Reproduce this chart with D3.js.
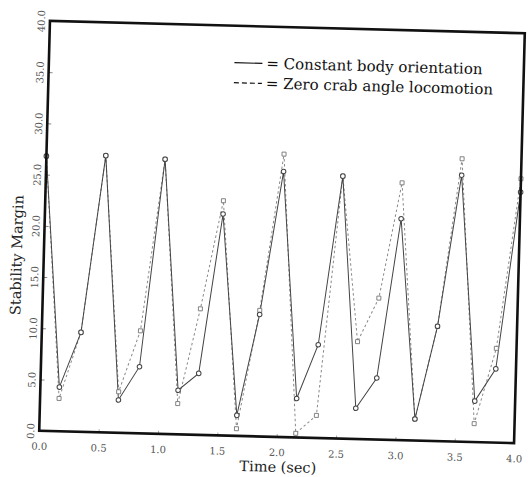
<!DOCTYPE html>
<meta charset="utf-8">
<head>
<style>
html, body {margin:0px; padding:0px; background:white;}
text {font-family: "DejaVu Serif", "Liberation Serif", serif;}
</style>
</head>
<script src="https://d3js.org/d3.v7.min.js"></script>
<div id="my_dataviz"></div>
<script>

// sample times (sec) shared by both gaits
var times = [0, 0.16, 0.33, 0.5, 0.66, 0.83, 1.0, 1.16, 1.33, 1.5, 1.66, 1.83, 2.0,
             2.16, 2.33, 2.5, 2.66, 2.83, 3.0, 3.16, 3.33, 3.5, 3.66, 3.83, 4.0];
// stability margin, constant body orientation (solid)
var constantBody = [26.8, 4.3, 9.7, 27.0, 3.2, 6.5, 26.8, 4.3, 6.0, 21.6, 2.0, 11.9, 25.9,
                    3.8, 9.1, 25.6, 3.0, 6.0, 21.6, 2.1, 11.2, 26.0, 4.0, 7.2, 24.5];
// stability margin, zero crab angle locomotion (dashed)
var zeroCrab = [26.8, 3.2, 9.7, 27.0, 4.0, 10.0, 26.8, 3.0, 12.3, 22.9, 0.7, 12.3, 27.6,
                0.4, 2.2, 25.6, 9.5, 13.8, 25.1, 2.1, 11.2, 27.6, 1.8, 9.2, 25.8];
var xTicks = [0, 0.5, 1.0, 1.5, 2.0, 2.5, 3.0, 3.5, 4.0];
var yTicks = [0, 5, 10, 15, 20, 25, 30, 35, 40];
var legendLabels = ["= Constant body orientation", "= Zero crab angle locomotion"];

var W = 528, H = 477;
var margin = {top: 27, right: 8.5, bottom: 40, left: 44.5},
  width = W - margin.left - margin.right,
  height = H - margin.top - margin.bottom;

var svg = d3.select("#my_dataviz")
  .append("svg")
    .attr("width", W)
    .attr("height", H)
  // the scanned page sits slightly tilted
  .append("g")
    .attr("transform", "rotate(1.5," + (margin.left + width/2) + "," + (margin.top + height/2) + ")")
  .append("g")
    .attr("transform", "translate(" + margin.left + "," + margin.top + ")");

var x = d3.scaleLinear().domain([0, 4]).range([0, width]);
var y = d3.scaleLinear().domain([0, 40]).range([height, 0]);

// x axis labels
svg.append("g")
    .attr("transform", "translate(0," + height + ")")
    .call(d3.axisBottom(x).tickValues(xTicks).tickSize(-3).tickPadding(12).tickFormat(d3.format(".1f")))
    .call(function(g) { g.select(".domain").remove(); })
    .call(function(g) {
      g.selectAll("line").attr("stroke", "#aaa");
      g.selectAll("text").attr("fill", "#555").style("font-size", "10px")
        .style("font-family", "DejaVu Serif");
    });

// y axis labels, rotated
var yAxis = svg.append("g")
    .call(d3.axisLeft(y).tickValues(yTicks).tickSize(-4).tickPadding(0).tickFormat(d3.format(".1f")))
    .call(function(g) { g.select(".domain").remove(); });
yAxis.selectAll("line").attr("stroke", "#888");
yAxis.selectAll("text")
    .attr("fill", "#555")
    .style("font-size", "10px")
    .style("font-family", "DejaVu Serif")
    .attr("text-anchor", "middle")
    .attr("x", 0).attr("dy", 0)
    .attr("transform", "translate(-5,0) rotate(-90)");

// line series
var line = d3.line()
  .x(function(d) { return x(d[0]); })
  .y(function(d) { return y(d[1]); });

var solidData = times.map(function(t, i) { return [t, constantBody[i]]; });
var dashData = times.map(function(t, i) { return [t, zeroCrab[i]]; });

svg.append("path")
  .datum(dashData)
  .attr("fill", "none")
  .attr("stroke", "#888")
  .attr("stroke-width", 1)
  .attr("stroke-dasharray", "2.5,2.5")
  .attr("d", line);

svg.append("path")
  .datum(solidData)
  .attr("fill", "none")
  .attr("stroke", "#444")
  .attr("stroke-width", 1)
  .attr("d", line);

// markers
svg.selectAll(".sq")
  .data(dashData)
  .enter()
  .append("rect")
    .attr("x", function(d) { return x(d[0]) - 2; })
    .attr("y", function(d) { return y(d[1]) - 2; })
    .attr("width", 4).attr("height", 4)
    .attr("fill", "white")
    .attr("stroke", "#777")
    .attr("stroke-width", 0.9);

svg.selectAll(".circ")
  .data(solidData)
  .enter()
  .append("circle")
    .attr("cx", function(d) { return x(d[0]); })
    .attr("cy", function(d) { return y(d[1]); })
    .attr("r", 2.3)
    .attr("fill", "white")
    .attr("stroke", "#444")
    .attr("stroke-width", 1);

// frame
svg.append("rect")
  .attr("x", 0).attr("y", 0)
  .attr("width", width).attr("height", height)
  .attr("fill", "none")
  .attr("stroke", "#111")
  .attr("stroke-width", 2.6);

// legend
var legend = svg.append("g").attr("transform", "translate(" + (230 - margin.left) + "," + (38 - margin.top) + ")");
legendLabels.forEach(function(lab, i) {
  legend.append("line")
    .attr("x1", 0).attr("x2", 28)
    .attr("y1", 26 + i*20).attr("y2", 26 + i*20)
    .attr("stroke", "#111")
    .attr("stroke-width", 1.2)
    .attr("stroke-dasharray", i == 1 ? "5,3" : null);
  legend.append("text")
    .attr("x", 32).attr("y", 31 + i*20)
    .style("font-size", "15px")
    .attr("fill", "#111")
    .text(lab);
});

// axis titles
svg.append("text")
  .attr("x", width/2 + 2)
  .attr("y", height + 35)
  .attr("text-anchor", "middle")
  .style("font-size", "14.5px")
  .attr("fill", "#222")
  .text("Time (sec)");

svg.append("text")
  .attr("transform", "translate(-22," + (height/2 + 30) + ") rotate(-90)")
  .attr("text-anchor", "middle")
  .style("font-size", "14.5px")
  .attr("fill", "#222")
  .text("Stability Margin");

</script>
</html>
